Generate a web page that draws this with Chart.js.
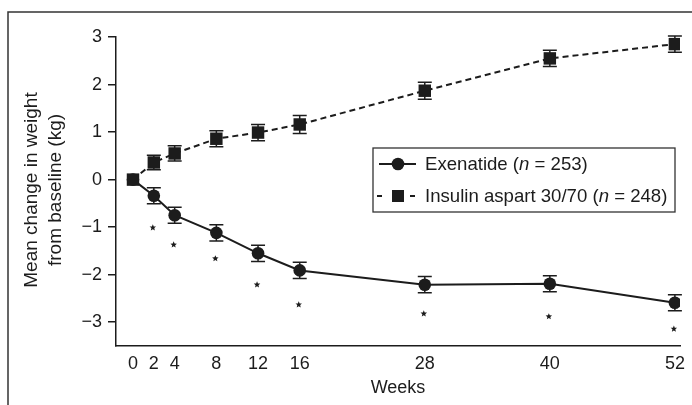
<!DOCTYPE html>
<html>
<head>
<meta charset="utf-8">
<script src="https://cdn.jsdelivr.net/npm/chart.js@4/dist/chart.umd.min.js"></script>
<style>
  html, body { margin: 0; padding: 0; background: #fff; }
  #wrap { width: 692px; height: 405px; position: relative; }
</style>
</head>
<body>
<div id="wrap"><canvas id="weight-chart"></canvas></div>
<script>
// weeks on study
const weeks = [0, 2, 4, 8, 12, 16, 28, 40, 52];
const xTickWeeks = [0, 2, 4, 8, 12, 16, 28, 40, 52];
const yTickValues = [-3, -2, -1, 0, 1, 2, 3];

// mean change in weight (kg) and error bars
const exenatideMean = [0, -0.34, -0.75, -1.12, -1.55, -1.91, -2.21, -2.19, -2.59];
const exenatideErr = [0, 0.17, 0.17, 0.17, 0.17, 0.17, 0.17, 0.17, 0.17];
const insulinMean = [0, 0.36, 0.55, 0.86, 0.99, 1.16, 1.87, 2.55, 2.85];
const insulinErr = [0, 0.15, 0.16, 0.17, 0.17, 0.19, 0.18, 0.17, 0.17];

// significance stars under the exenatide curve
const starWeeks = [2, 4, 8, 12, 16, 28, 40, 52];
const starValues = [-1.01, -1.37, -1.66, -2.21, -2.63, -2.82, -2.88, -3.14];

const labelExenatide = ["Exenatide (", "n", " = 253)"];
const labelInsulin = ["Insulin aspart 30/70 (", "n", " = 248)"];

const FONT = '"Liberation Sans", Arial, Helvetica, sans-serif';
const INK = "#1c1c1c";

const toPoints = (ys) => weeks.map((w, i) => ({ x: w, y: ys[i] }));

// error bars, drawn under the markers
const errorBars = {
  id: "errorBars",
  beforeDatasetsDraw(chart) {
    const { ctx, scales: { x, y } } = chart;
    const sets = [[exenatideMean, exenatideErr], [insulinMean, insulinErr]];
    ctx.save();
    ctx.strokeStyle = INK;
    ctx.lineWidth = 1.5;
    sets.forEach(([m, e]) => {
      weeks.forEach((w, i) => {
        if (!e[i]) return;
        const px = x.getPixelForValue(w);
        const top = y.getPixelForValue(m[i] + e[i]);
        const bot = y.getPixelForValue(m[i] - e[i]);
        ctx.beginPath();
        ctx.moveTo(px, top); ctx.lineTo(px, bot);
        ctx.moveTo(px - 7, top); ctx.lineTo(px + 7, top);
        ctx.moveTo(px - 7, bot); ctx.lineTo(px + 7, bot);
        ctx.stroke();
      });
    });
    ctx.restore();
  },
};

function drawStar(ctx, cx, cy, r) {
  ctx.beginPath();
  for (let k = 0; k < 10; k++) {
    const rad = k % 2 === 0 ? r : r * 0.45;
    const a = -Math.PI / 2 + (k * Math.PI) / 5;
    ctx.lineTo(cx + rad * Math.cos(a), cy + rad * Math.sin(a));
  }
  ctx.closePath();
  ctx.fill();
}

function drawParts(ctx, parts, x, y) {
  parts.forEach((p, i) => {
    ctx.font = (i === 1 ? "italic " : "") + "18.6px " + FONT;
    ctx.fillText(p, x, y);
    x += ctx.measureText(p).width;
  });
}

// frame, titles, stars and legend
const decorations = {
  id: "decorations",
  beforeDraw(chart) {
    const { ctx } = chart;
    ctx.save();
    ctx.fillStyle = "#fff";
    ctx.fillRect(0, 0, chart.width, chart.height);
    ctx.strokeStyle = "#333";
    ctx.lineWidth = 1.5;
    ctx.beginPath();
    ctx.moveTo(8, chart.height);
    ctx.lineTo(8, 12);
    ctx.lineTo(chart.width, 12);
    ctx.stroke();
    ctx.restore();
  },
  afterDraw(chart) {
    const { ctx, scales: { x, y } } = chart;
    ctx.save();
    ctx.fillStyle = INK;

    // stars
    starWeeks.forEach((w, i) => {
      drawStar(ctx, x.getPixelForValue(w) - 1, y.getPixelForValue(starValues[i]), 3.4);
    });

    // axis titles
    ctx.textAlign = "center";
    ctx.textBaseline = "middle";
    ctx.font = "18px " + FONT;
    ctx.fillText("Weeks", 398, 388);
    ctx.translate(44, 190);
    ctx.rotate(-Math.PI / 2);
    ctx.font = "19px " + FONT;
    ctx.fillText("Mean change in weight", 0, -12);
    ctx.fillText("from baseline (kg)", 0, 12);
    ctx.setTransform(1, 0, 0, 1, 0, 0);

    // legend box
    ctx.fillStyle = "#fff";
    ctx.fillRect(373, 148, 302, 64);
    ctx.strokeStyle = "#333";
    ctx.lineWidth = 1.3;
    ctx.strokeRect(373, 148, 302, 64);

    ctx.strokeStyle = INK;
    ctx.fillStyle = INK;
    ctx.lineWidth = 2;
    // exenatide row
    ctx.beginPath();
    ctx.moveTo(379, 164); ctx.lineTo(416, 164);
    ctx.stroke();
    ctx.beginPath();
    ctx.arc(398, 164, 6.3, 0, Math.PI * 2);
    ctx.fill();
    // insulin row
    ctx.beginPath();
    ctx.moveTo(377, 196); ctx.lineTo(382, 196);
    ctx.moveTo(410, 196); ctx.lineTo(415, 196);
    ctx.stroke();
    ctx.fillRect(392, 190, 12, 12);

    ctx.textAlign = "left";
    ctx.textBaseline = "middle";
    drawParts(ctx, labelExenatide, 425, 165);
    drawParts(ctx, labelInsulin, 425, 197);
    ctx.restore();
  },
};

const ctx = document.getElementById("weight-chart").getContext("2d");

const weightChart = new Chart(ctx, {
  type: "line",
  data: {
    datasets: [
      {
        label: "Insulin aspart 30/70",
        data: toPoints(insulinMean),
        borderColor: INK,
        backgroundColor: INK,
        borderWidth: 2,
        borderDash: [6, 4],
        pointStyle: "rect",
        pointRadius: 8.8,
        pointBorderWidth: 0,
        tension: 0,
      },
      {
        label: "Exenatide",
        data: toPoints(exenatideMean),
        borderColor: INK,
        backgroundColor: INK,
        borderWidth: 2,
        pointStyle: "circle",
        pointRadius: 6.3,
        pointBorderWidth: 0,
        tension: 0,
      },
    ],
  },
  options: {
    responsive: true,
    maintainAspectRatio: false,
    animation: false,
    layout: { padding: { top: 37, right: 11, left: 0, bottom: 0 } },
    plugins: {
      legend: { display: false },
      tooltip: { enabled: false },
    },
    scales: {
      x: {
        type: "linear",
        min: -1.63,
        max: 52.5,
        afterBuildTicks: (axis) => {
          axis.ticks = xTickWeeks.map((v) => ({ value: v }));
        },
        afterFit: (axis) => { axis.height = 59; },
        grid: { display: false, drawTicks: false },
        border: { display: true, color: INK, width: 1.5 },
        ticks: {
          color: INK,
          padding: 7,
          maxRotation: 0,
          autoSkip: false,
          font: { family: FONT, size: 18 },
        },
      },
      y: {
        type: "linear",
        min: -3.5,
        max: 3,
        afterBuildTicks: (axis) => {
          axis.ticks = yTickValues.map((v) => ({ value: v }));
        },
        afterFit: (axis) => { axis.width = 116; },
        grid: {
          display: true,
          drawOnChartArea: false,
          drawTicks: true,
          tickLength: 8,
          color: INK,
          lineWidth: 1.5,
        },
        border: { display: true, color: INK, width: 1.5 },
        ticks: {
          color: INK,
          padding: 6,
          font: { family: FONT, size: 18 },
          callback: (v) => (v < 0 ? "\u2212" + Math.abs(v) : String(v)),
        },
      },
    },
  },
  plugins: [errorBars, decorations],
});
</script>
</body>
</html>
